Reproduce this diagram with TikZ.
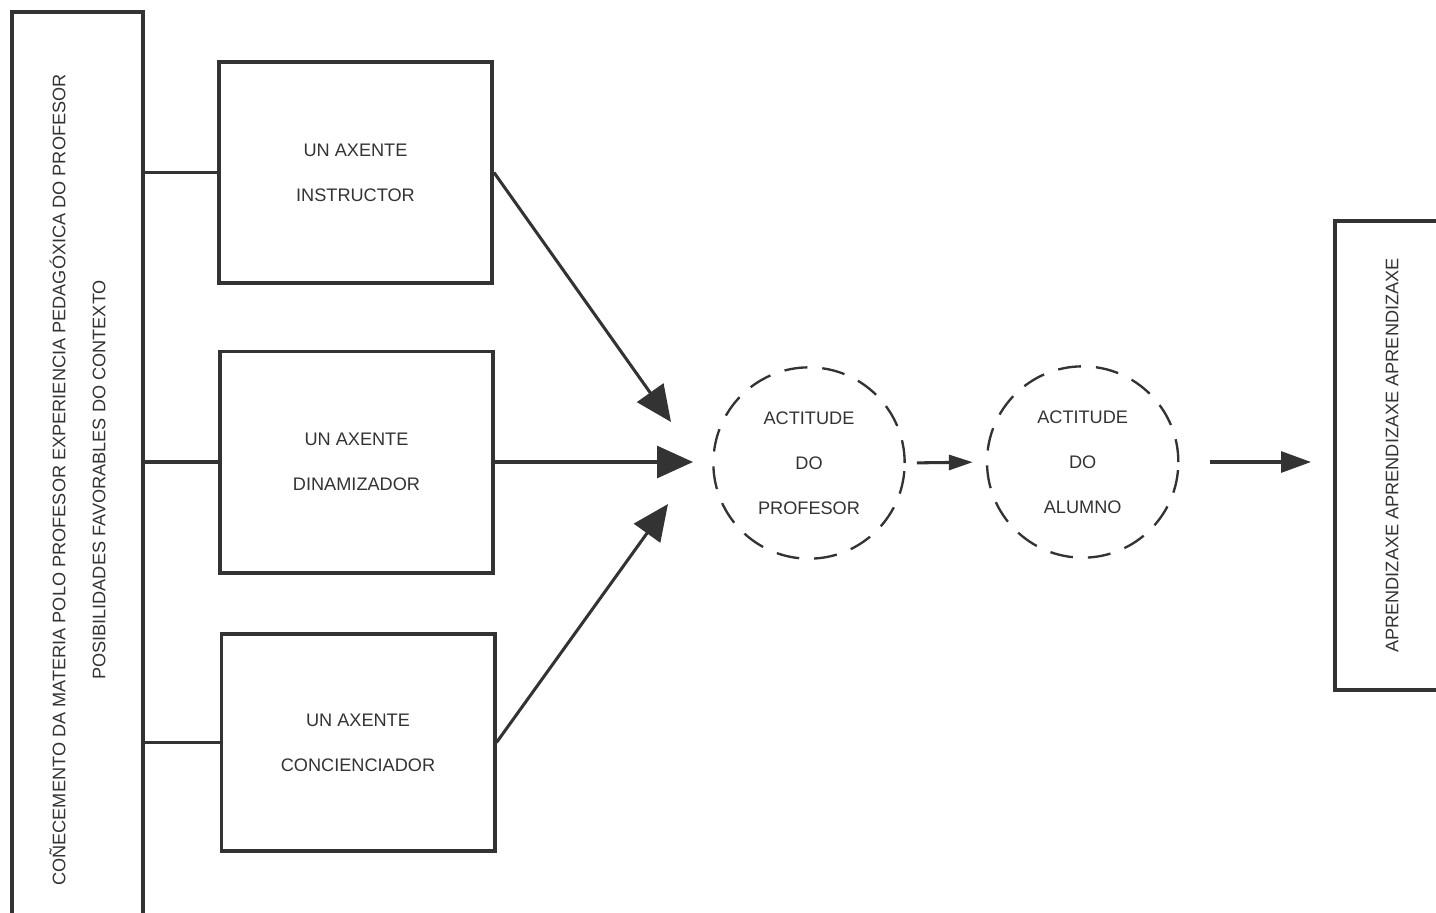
\documentclass[tikz,border=0pt]{standalone}
\usepackage{fontspec}
\setmainfont{Liberation Sans}
\usetikzlibrary{arrows.meta,positioning,calc}
\tikzset{
  ink/.style      = {draw=black!80, text=black!80},
  agent/.style    = {ink, rectangle, line width=3.4pt, minimum width=8.19cm, minimum height=6.63cm,
                     align=center, font=\fontsize{15.5}{38.4}\selectfont},
  attitude/.style = {ink, circle, line width=2pt, dash pattern=on 0.69cm off 0.45cm,
                     minimum size=5.74cm, align=center, font=\fontsize{15.5}{38.4}\selectfont},
  sidebox/.style  = {ink, rectangle, line width=3.4pt, rotate=90, align=center,
                     font=\fontsize{15.5}{34.1}\selectfont},
  link/.style     = {draw=black!80, line width=2.6pt},
  post/.style     = {link, -{Triangle[length=1.08cm, width=0.96cm]}},
  small post/.style = {link, -{Triangle[length=#1]}}
}

\begin{document}
\begin{tikzpicture}
    \useasboundingbox (0,0) rectangle (43.08,-27.36);
    \clip (0,0) rectangle (43.08,-27.36);

    % side boxes (rotated, so .south is the page-right side)
    \node[sidebox, minimum width=28.08cm, minimum height=3.93cm] (knowl) at (2.325,-14.4)
      {COÑECEMENTO DA MATERIA POLO PROFESOR EXPERIENCIA PEDAGÓXICA DO PROFESOR\\
       POSIBILIDADES FAVORABLES DO CONTEXTO};
    \node[sidebox, minimum width=14.07cm, minimum height=3.42cm] (learn) at (41.76,-13.665)
      {APRENDIZAXE APRENDIZAXE APRENDIZAXE};

    % the three agents
    \node[agent] (instr) at (10.665,-5.175) {UN AXENTE\\INSTRUCTOR};
    \node[agent] (dinam) at (10.695,-13.86) {UN AXENTE\\DINAMIZADOR};
    \node[agent, minimum height=6.51cm] (concien) at (10.74,-22.275) {UN AXENTE\\CONCIENCIADOR};

    % attitudes
    \node[attitude] (prof) at (24.27,-13.89) {ACTITUDE\\DO\\PROFESOR};
    \node[attitude] (alum) at (32.48,-13.86) {ACTITUDE\\DO\\ALUMNO};

    \coordinate (tipA) at (20.13,-12.66);
    \coordinate (tipB) at (20.79,-13.86);
    \coordinate (tipC) at (20.04,-15.12);

    \draw[link] (instr.west -| knowl.south) -- (instr.west);
    \draw[link] (dinam.west -| knowl.south) -- (dinam.west);
    \draw[link] (concien.west -| knowl.south) -- (concien.west);

    \draw[post] (instr.east) -- (tipA);
    \draw[post] (dinam.east) -- (tipB);
    \draw[post] (concien.east) -- (tipC);

    \draw[-{Triangle[length=0.72cm, width=0.45cm]}, link, shorten <=0.33cm, shorten >=0.39cm]
      (prof.east) -- (alum.west);
    \draw[-{Triangle[length=0.9cm, width=0.63cm]}, link, shorten <=0.92cm, shorten >=0.66cm]
      (alum.east) -- (alum.east -| learn.north);
\end{tikzpicture}
\end{document}
